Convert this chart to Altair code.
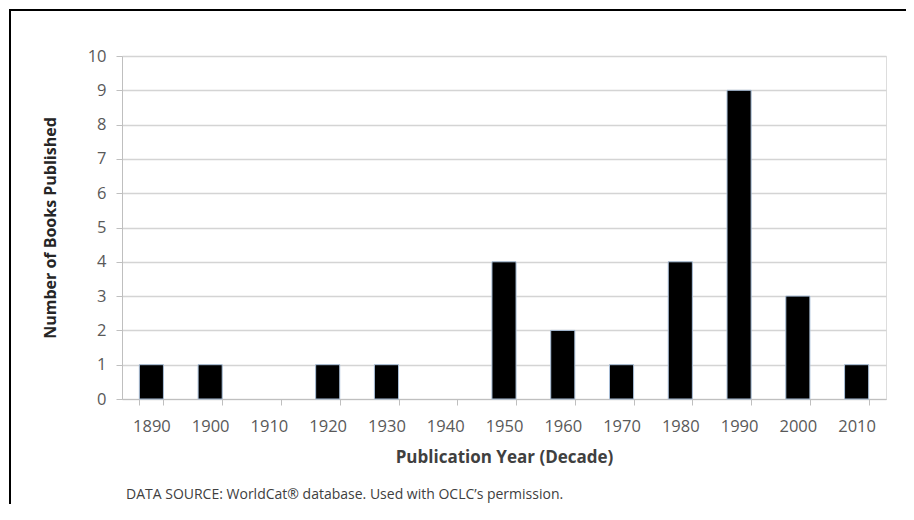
import altair as alt
import pandas as pd

decades = ["1890", "1900", "1910", "1920", "1930", "1940", "1950",
           "1960", "1970", "1980", "1990", "2000", "2010"]
books = [1, 1, 0, 1, 1, 0, 4, 2, 1, 4, 9, 3, 1]
y_ticks = list(range(0, 11))
footnote = ["DATA SOURCE: WorldCat\u00ae database. Used with OCLC\u2019s permission."]

df = pd.DataFrame({"decade": decades, "books": books})
note_df = pd.DataFrame({"note": footnote})

W, H = 764, 343
FONT = "Open Sans"

bars = alt.Chart(df).mark_bar(color="black", strokeWidth=1).encode(
    x=alt.X("decade:N", sort=decades,
            scale=alt.Scale(domain=decades, paddingInner=0.59, paddingOuter=0.295),
            axis=alt.Axis(title="Publication Year (Decade)", labelAngle=0,
                          tickBand="extent", tickSize=6, tickColor="#bfbfbf",
                          domainColor="#bfbfbf", labelPadding=13,
                          labelFontSize=16.5, labelColor="#595959", labelFont=FONT,
                          titleFont=FONT, titleFontSize=17, titleFontWeight="bold",
                          titleColor="#404040", titleY=58, titleBaseline="middle",
                          grid=False)),
    y=alt.Y("books:Q", scale=alt.Scale(domain=[0, 10], nice=False),
            axis=alt.Axis(title="Number of Books Published", values=y_ticks,
                          tickSize=6, tickColor="#bfbfbf", domainColor="#bfbfbf",
                          gridColor="#d4d4d4", gridWidth=1.3, labelPadding=10,
                          labelFontSize=16.5, labelColor="#595959", labelFont=FONT,
                          titleFont=FONT, titleFontSize=16, titleFontWeight="bold",
                          titleColor="#262626", titleX=-72, titleBaseline="middle")),
    stroke=alt.condition(alt.datum.books > 0, alt.value("#a9bfd8"), alt.value("transparent")),
)

note = alt.Chart(note_df).mark_text(
    align="left", baseline="middle", font=FONT, fontSize=14, color="#404040"
).encode(x=alt.value(4), y=alt.value(439), text="note:N")

frame = alt.Chart(note_df).mark_rect(
    fill=None, stroke="black", strokeWidth=2
).encode(x=alt.value(-112), y=alt.value(-46), x2=alt.value(W + 60), y2=alt.value(H + 150))

chart = alt.layer(frame, bars, note).properties(
    width=W, height=H,
    autosize=alt.AutoSizeParams(type="none"),
    padding={"left": 114, "top": 48, "right": 20, "bottom": 105},
).configure_view(stroke=None).configure(background="white")

chart.save("out.html", embed_options={"renderer": "svg", "actions": False})
